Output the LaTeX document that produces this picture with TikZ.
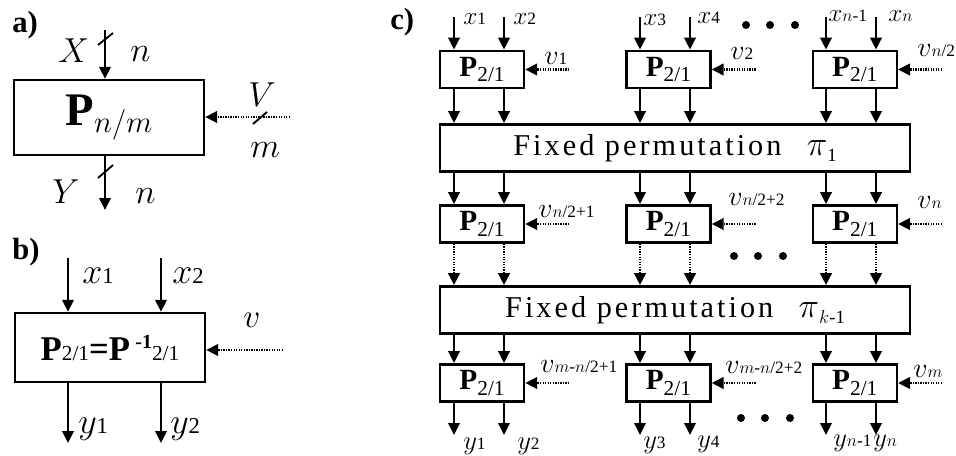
\documentclass[tikz,border=0pt]{standalone}
\usepackage{fix-cm}
\usepackage{fontspec}
\setmainfont{Liberation Serif}
\newfontfamily\spreadfont[LetterSpace=10]{Liberation Serif}
\usetikzlibrary{arrows.meta, positioning}
\newcommand{\low}[3]{\raisebox{-#1}{\fontsize{#2}{#2}\selectfont #3}}
\newcommand{\ptwo}{{\fontsize{22}{22}\selectfont\textbf{P}\low{4pt}{16}{2/1}}}
\newcommand{\permtext}[1]{Fixed permutation\hspace{19pt}{\rmfamily\fontsize{26}{26}\selectfont$\pi$\low{4.5pt}{14}{#1}}}

\begin{document}
\begin{tikzpicture}[x=0.75pt, y=-0.75pt, node distance=75pt,
    >={Triangle[length=9pt, width=8.5pt]},
    pbox/.style={draw, line width=1.8pt, minimum width=63pt, minimum height=28pt, inner sep=0pt},
    permbox/.style={draw, line width=1.8pt, minimum width=352.5pt, minimum height=35.5pt, inner sep=0pt,
        font=\spreadfont\fontsize{22.7}{22.7}\selectfont},
    bigbox/.style={draw, line width=1.8pt, minimum width=142.5pt, inner sep=0pt},
    sig/.style={->, line width=2pt},
    ctl/.style={->, line width=2.2pt, dash pattern=on 1pt off 0.9pt},
    tag/.style={inner sep=0pt, anchor=base west, font=\fontsize{23}{23}\selectfont\bfseries},
    lbl/.style={inner sep=0pt, anchor=base west, font=\fontsize{19}{19}\selectfont},
    biglbl/.style={inner sep=0pt, anchor=base west, font=\fontsize{26}{26}\selectfont},
    bar/.style={line width=1.4pt}]
    \useasboundingbox (0,0) rectangle (956,456);

    % a) general block
    \node[tag] (taga) at (12,33) {a)};
    \node[bigbox, minimum height=56.25pt] (pa) at (109,117.5)
        {{\fontsize{35}{35}\selectfont\textbf{P}\low{5pt}{23}{$n/m$}}};
    \coordinate (xa) at (105,30);
    \coordinate (ya) at (105,210);
    \coordinate (va) at (290,117);
    \draw[sig] (xa) -- (xa |- pa.north);
    \draw[sig] (pa.south -| ya) -- (ya);
    \draw[ctl] (va) -- (va -| pa.east);
    \draw[bar] (98,45) -- (113,33);
    \draw[bar] (98,178) -- (113,165);
    \draw[bar] (253,124) -- (267,112);
    \node[biglbl] (lx) at (58,63) {$X$};
    \node[biglbl] (lxn) at (130,62) {$n$};
    \node[biglbl] (ly) at (52,203) {$Y$};
    \node[biglbl] (lyn) at (135,203) {$n$};
    \node[biglbl] (lv) at (248,107) {$V$};
    \node[biglbl] (lvm) at (250,158) {$m$};

    % b) elementary block
    \node[tag] (tagb) at (12,259) {b)};
    \node[bigbox, minimum height=51.75pt] (pb) at (110,347.5)
        {{\fontsize{26}{26}\selectfont\textbf{P}\low{0pt}{16}{2/1}\textbf{=P}\hspace{4pt}%
        \raisebox{9pt}{\fontsize{15}{15}\selectfont\bfseries -1}\low{0pt}{16}{2/1}}};
    \coordinate (xb1) at (68,258);
    \coordinate (xb2) at (161,258);
    \coordinate (yb1) at (68,443);
    \coordinate (yb2) at (161,443);
    \coordinate (vb) at (283,350);
    \draw[sig] (xb1) -- (xb1 |- pb.north);
    \draw[sig] (xb2) -- (xb2 |- pb.north);
    \draw[sig] (pb.south -| yb1) -- (yb1);
    \draw[sig] (pb.south -| yb2) -- (yb2);
    \draw[ctl] (vb) -- (vb -| pb.east);
    \node[biglbl, font=\fontsize{27}{27}\selectfont] (lx1) at (82,283) {$x$\low{0pt}{17}{1}};
    \node[biglbl, font=\fontsize{27}{27}\selectfont] (lx2) at (172,283) {$x$\low{0pt}{17}{2}};
    \node[biglbl, font=\fontsize{27}{27}\selectfont] (ly1) at (78,433) {$y$\low{0pt}{17}{1}};
    \node[biglbl, font=\fontsize{27}{27}\selectfont] (ly2) at (170,433) {$y$\low{0pt}{17}{2}};
    \node[biglbl, font=\fontsize{25}{25}\selectfont] (lvb) at (243,327) {$v$};

    % c) the cascade
    \node[tag] (tagc) at (390,30) {c)};
    \node[pbox] (a1) at (482,69.5) {\ptwo};
    \node[pbox, right=of a1] (a2) {\ptwo};
    \node[pbox, right=of a2] (a3) {\ptwo};
    \node[permbox] (p1) at (675,148) {\permtext{1}};
    \node[pbox] (b1) at (482,224) {\ptwo};
    \node[pbox, right=of b1] (b2) {\ptwo};
    \node[pbox, right=of b2] (b3) {\ptwo};
    \node[permbox] (p2) at (675,310) {\permtext{$k$-1}};
    \node[pbox] (c1) at (482,383) {\ptwo};
    \node[pbox, right=of c1] (c2) {\ptwo};
    \node[pbox, right=of c2] (c3) {\ptwo};

    \foreach \x [count=\i] in {454,504,640,690,826,876} {
        \coordinate (in\i) at (\x,17);
        \coordinate (out\i) at (\x,435);
    }
    \foreach \i/\b in {1/1,2/1,3/2,4/2,5/3,6/3} {
        \draw[sig] (in\i) -- (in\i |- a\b.north);
        \draw[sig] (in\i |- a\b.south) -- (in\i |- p1.north);
        \draw[sig] (in\i |- p1.south) -- (in\i |- b\b.north);
        \draw[ctl] (in\i |- b\b.south) -- (in\i |- p2.north);
        \draw[sig] (in\i |- p2.south) -- (in\i |- c\b.north);
        \draw[sig] (in\i |- c\b.south) -- (out\i);
    }
    \foreach \n in {a1,a2,a3,b1,b2,b3,c1,c2,c3}
        \draw[ctl] ([xshift=33pt]\n.east) -- (\n.east);

    % inputs, outputs and keys
    \node[lbl] (x1) at (463,25) {$x$\low{0pt}{13}{1}};
    \node[lbl] (x2) at (513,25) {$x$\low{0pt}{13}{2}};
    \node[lbl] (x3) at (643,26) {$x$\low{0pt}{13}{3}};
    \node[lbl] (x4) at (697,24) {$x$\low{0pt}{13}{4}};
    \node[lbl] (xn1) at (828,22) {$x$\low{0pt}{13}{$n$-1}};
    \node[lbl] (xn) at (888,22) {$x$\low{0pt}{13}{$n$}};
    \node[lbl, font=\fontsize{20}{20}\selectfont] (y1) at (463,449) {$y$\low{0pt}{13}{1}};
    \node[lbl, font=\fontsize{20}{20}\selectfont] (y2) at (517,449) {$y$\low{0pt}{13}{2}};
    \node[lbl, font=\fontsize{20}{20}\selectfont] (y3) at (643,448) {$y$\low{0pt}{13}{3}};
    \node[lbl, font=\fontsize{20}{20}\selectfont] (y4) at (697,447) {$y$\low{0pt}{13}{4}};
    \node[lbl, font=\fontsize{20}{20}\selectfont] (yn1) at (833,446) {$y$\low{0pt}{13}{$n$-1}};
    \node[lbl, font=\fontsize{20}{20}\selectfont] (yn) at (873,446) {$y$\low{0pt}{13}{$n$}};
    \node[lbl, font=\fontsize{21}{21}\selectfont] (v1) at (544,65) {$v$\low{0pt}{13}{1}};
    \node[lbl, font=\fontsize{21}{21}\selectfont] (v2) at (730,60) {$v$\low{0pt}{13}{2}};
    \node[lbl, font=\fontsize{21}{21}\selectfont] (vn2) at (917,57) {$v$\low{0pt}{13}{$n$/2}};
    \node[lbl, font=\fontsize{21}{21}\selectfont] (vn21) at (538,217) {$v$\low{0pt}{13}{$n$/2+1}};
    \node[lbl, font=\fontsize{21}{21}\selectfont] (vn22) at (728,205) {$v$\low{0pt}{13}{$n$/2+2}};
    \node[lbl, font=\fontsize{21}{21}\selectfont] (vn) at (917,208) {$v$\low{0pt}{13}{$n$}};
    \node[lbl, font=\fontsize{21}{21}\selectfont] (vm1) at (540,372) {$v$\low{0pt}{13}{$m$-$n$/2+1}};
    \node[lbl, font=\fontsize{21}{21}\selectfont] (vm2) at (725,373) {$v$\low{0pt}{13}{$m$-$n$/2+2}};
    \node[lbl, font=\fontsize{21}{21}\selectfont] (vm) at (913,377) {$v$\low{0pt}{13}{$m$}};

    % ellipsis dots
    \foreach \x in {746,770,795} \fill (\x,25) circle (3pt);
    \foreach \x in {734,758,783} \fill (\x,256) circle (3pt);
    \foreach \x in {741,765,790} \fill (\x,418) circle (3pt);
\end{tikzpicture}
\end{document}
